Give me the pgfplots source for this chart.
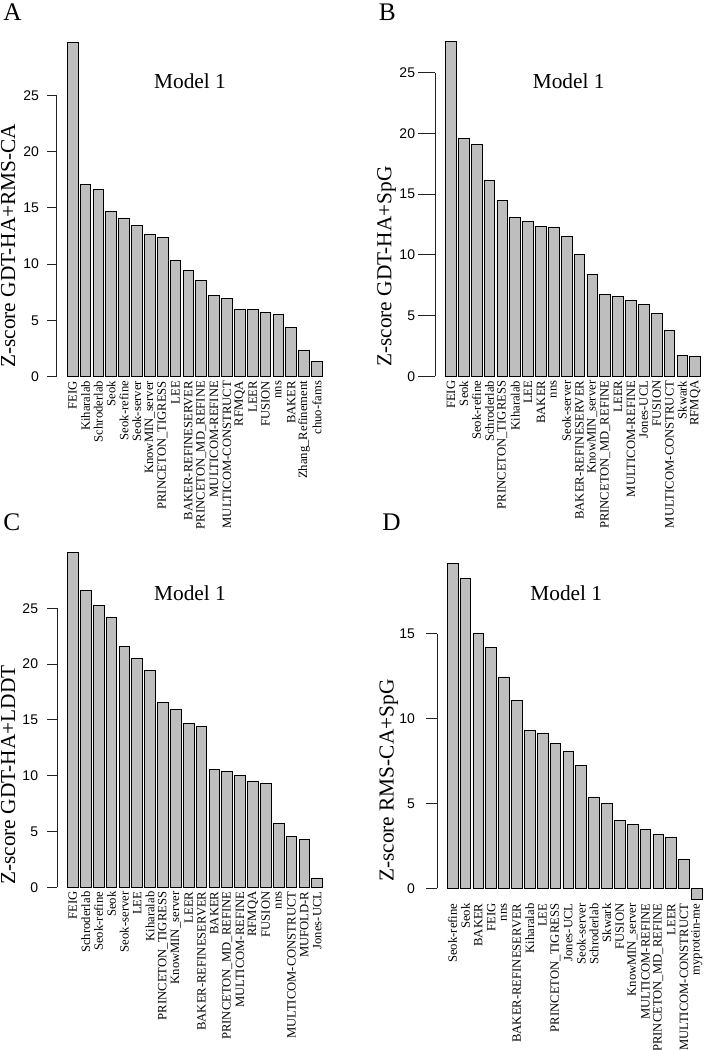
\documentclass[border=0pt]{standalone}
\usepackage{fontspec}
\setmainfont{Liberation Serif}
\newfontfamily\sansnum{Liberation Sans}
\usepackage{pgfplots}
\pgfplotsset{compat=1.18}
\definecolor{barfill}{HTML}{BEBEBE}
\definecolor{axcol}{HTML}{222222}
\tikzset{ynum/.style={anchor=east, inner sep=0pt, font=\fontsize{10.5}{10.5}\selectfont\sansnum}}
\pgfplotsset{
 rpanel/.style={
  scale only axis, width=206.6pt,
  xmin=-1.2097, xmax=20.2097,
  enlargelimits=false, clip=false,
  axis line style={draw=none},
  xtick={0,1,...,19},
  xtick style={draw=none},
  xtick pos=left, ytick pos=left,
  tick align=outside,
  ytick style={axcol, line width=0.75pt},
  yticklabels={},
  xticklabel style={rotate=90, anchor=east, inner sep=0pt, font=\fontsize{9.5}{9.5}\selectfont},
  ybar, bar width=0.8333,
 },
 rbar/.style={fill=barfill, draw=black, line width=0.6pt},
}
\begin{document}
\begin{tikzpicture}
\path[use as bounding box] (0,0) rectangle (528pt,-787.5pt);
% ---------------- A
\begin{axis}[rpanel, at={(42.75pt,-282.53pt)}, anchor=south west, height=250.8pt,
  ymin=0, ymax=29.7, ytick={0,5,...,25}, major tick length=7.3pt,
  xticklabel shift=-4.3pt,
  xticklabels={FEIG,Kiharalab,Schroderlab,Seok,Seok-refine,Seok-server,KnowMIN\_server,PRINCETON\_TIGRESS,LEE,BAKER-REFINESERVER,PRINCETON\_MD\_REFINE,MULTICOM-REFINE,MULTICOM-CONSTRUCT,RFMQA,LEER,FUSION,nns,BAKER,Zhang\_Refinement,chuo-fams}]
\addplot[rbar] coordinates {(0,29.7) (1,17.09) (2,16.6) (3,14.7) (4,14.1) (5,13.4) (6,12.65) (7,12.4) (8,10.34) (9,9.42) (10,8.56) (11,7.23) (12,6.96) (13,5.98) (14,5.95) (15,5.72) (16,5.54) (17,4.39) (18,2.31) (19,1.39)};
\draw[axcol, line width=0.75pt] (axis cs:-1.2097,0) -- (axis cs:-1.2097,25);
\node[ynum, xshift=-13.3pt] at (axis cs:-1.2097,0) {0};
\node[ynum, xshift=-13.3pt] at (axis cs:-1.2097,5) {5};
\node[ynum, xshift=-13.3pt] at (axis cs:-1.2097,10) {10};
\node[ynum, xshift=-13.3pt] at (axis cs:-1.2097,15) {15};
\node[ynum, xshift=-13.3pt] at (axis cs:-1.2097,20) {20};
\node[ynum, xshift=-13.3pt] at (axis cs:-1.2097,25) {25};
\end{axis}
% ---------------- B
\begin{axis}[rpanel, at={(326.48pt,-282.3pt)}, anchor=south west, height=251pt,
  ymin=0, ymax=27.55, ytick={0,5,...,25}, major tick length=13pt,
  xticklabel shift=-10pt,
  xticklabels={FEIG,Seok,Seok-refine,Schroderlab,PRINCETON\_TIGRESS,Kiharalab,LEE,BAKER,nns,Seok-server,BAKER-REFINESERVER,KnowMIN\_server,PRINCETON\_MD\_REFINE,LEER,MULTICOM-REFINE,Jones-UCL,FUSION,MULTICOM-CONSTRUCT,Skwark,RFMQA}]
\addplot[rbar] coordinates {(0,27.55) (1,19.6) (2,19.07) (3,16.16) (4,14.49) (5,13.09) (6,12.73) (7,12.38) (8,12.3) (9,11.5) (10,10.02) (11,8.37) (12,6.72) (13,6.59) (14,6.23) (15,5.96) (16,5.19) (17,3.82) (18,1.76) (19,1.65)};
\draw[axcol, line width=0.75pt] (axis cs:-1.2097,0) -- (axis cs:-1.2097,25);
\node[ynum, xshift=-15pt] at (axis cs:-1.2097,0) {0};
\node[ynum, xshift=-15pt] at (axis cs:-1.2097,5) {5};
\node[ynum, xshift=-15pt] at (axis cs:-1.2097,10) {10};
\node[ynum, xshift=-15pt] at (axis cs:-1.2097,15) {15};
\node[ynum, xshift=-15pt] at (axis cs:-1.2097,20) {20};
\node[ynum, xshift=-15pt] at (axis cs:-1.2097,25) {25};
\end{axis}
% ---------------- C
\begin{axis}[rpanel, at={(42.98pt,-665.48pt)}, anchor=south west, height=250.95pt,
  ymin=0, ymax=29.99, ytick={0,5,...,25}, major tick length=7.5pt,
  xticklabel shift=-4.5pt,
  xticklabels={FEIG,Schroderlab,Seok-refine,Seok,Seok-server,LEE,Kiharalab,PRINCETON\_TIGRESS,KnowMIN\_server,LEER,BAKER-REFINESERVER,BAKER,PRINCETON\_MD\_REFINE,MULTICOM-REFINE,RFMQA,FUSION,nns,MULTICOM-CONSTRUCT,MUFOLD-R,Jones-UCL}]
\addplot[rbar] coordinates {(0,29.99) (1,26.6) (2,25.27) (3,24.16) (4,21.6) (5,20.55) (6,19.44) (7,16.55) (8,15.92) (9,14.7) (10,14.43) (11,10.54) (12,10.36) (13,10.0) (14,9.53) (15,9.32) (16,5.70) (17,4.57) (18,4.27) (19,0.84)};
\draw[axcol, line width=0.75pt] (axis cs:-1.2097,0) -- (axis cs:-1.2097,25);
\node[ynum, xshift=-14.25pt] at (axis cs:-1.2097,0) {0};
\node[ynum, xshift=-14.25pt] at (axis cs:-1.2097,5) {5};
\node[ynum, xshift=-14.25pt] at (axis cs:-1.2097,10) {10};
\node[ynum, xshift=-14.25pt] at (axis cs:-1.2097,15) {15};
\node[ynum, xshift=-14.25pt] at (axis cs:-1.2097,20) {20};
\node[ynum, xshift=-14.25pt] at (axis cs:-1.2097,25) {25};
\end{axis}
% ---------------- D
\begin{axis}[rpanel, at={(327.75pt,-674.48pt)}, anchor=south west, height=252pt,
  ymin=-0.65, ymax=19.14, ytick={0,5,...,15}, major tick length=8.25pt,
  xticklabel shift=-5.25pt,
  xticklabels={Seok-refine,Seok,BAKER,FEIG,nns,BAKER-REFINESERVER,Kiharalab,LEE,PRINCETON\_TIGRESS,Jones-UCL,Seok-server,Schroderlab,Skwark,FUSION,KnowMIN\_server,MULTICOM-REFINE,PRINCETON\_MD\_REFINE,LEER,MULTICOM-CONSTRUCT,myprotein-me}]
\addplot[rbar] coordinates {(0,19.14) (1,18.24) (2,15.04) (3,14.2) (4,12.45) (5,11.05) (6,9.29) (7,9.13) (8,8.52) (9,8.09) (10,7.23) (11,5.38) (12,4.99) (13,3.97) (14,3.77) (15,3.48) (16,3.18) (17,2.98) (18,1.73) (19,-0.65)};
\draw[axcol, line width=0.75pt] (axis cs:-1.2097,0) -- (axis cs:-1.2097,15);
\node[ynum, xshift=-16.3pt] at (axis cs:-1.2097,0) {0};
\node[ynum, xshift=-16.3pt] at (axis cs:-1.2097,5) {5};
\node[ynum, xshift=-16.3pt] at (axis cs:-1.2097,10) {10};
\node[ynum, xshift=-16.3pt] at (axis cs:-1.2097,15) {15};
\end{axis}
% ---------------- labels
\begin{scope}[every node/.style={inner sep=0pt}]
\node[rotate=90, anchor=base west, font=\fontsize{16}{16}\selectfont] at (11.25pt,-276pt) {Z-score GDT-HA+RMS-CA};
\node[rotate=90, anchor=base west, font=\fontsize{16}{16}\selectfont] at (293.48pt,-275.25pt) {Z-score GDT-HA+SpG};
\node[rotate=90, anchor=base west, font=\fontsize{16}{16}\selectfont] at (11.25pt,-663.75pt) {Z-score GDT-HA+LDDT};
\node[rotate=90, anchor=base west, font=\fontsize{16}{16}\selectfont] at (295.28pt,-661.5pt) {Z-score RMS-CA+SpG};
\node[anchor=base, font=\fontsize{16}{16}\selectfont] at (142.5pt,-66.2pt) {Model 1};
\node[anchor=base, font=\fontsize{16}{16}\selectfont] at (426.5pt,-66.2pt) {Model 1};
\node[anchor=base, font=\fontsize{16}{16}\selectfont] at (142.5pt,-450pt) {Model 1};
\node[anchor=base, font=\fontsize{16}{16}\selectfont] at (424.7pt,-450pt) {Model 1};
\node[anchor=base west, font=\fontsize{19}{19}\selectfont] at (2.25pt,-15pt) {A};
\node[anchor=base west, font=\fontsize{19}{19}\selectfont] at (284pt,-15pt) {B};
\node[anchor=base west, font=\fontsize{19}{19}\selectfont] at (2.25pt,-397.5pt) {C};
\node[anchor=base west, font=\fontsize{19}{19}\selectfont] at (286.5pt,-397.5pt) {D};
\end{scope}
\end{tikzpicture}
\end{document}
